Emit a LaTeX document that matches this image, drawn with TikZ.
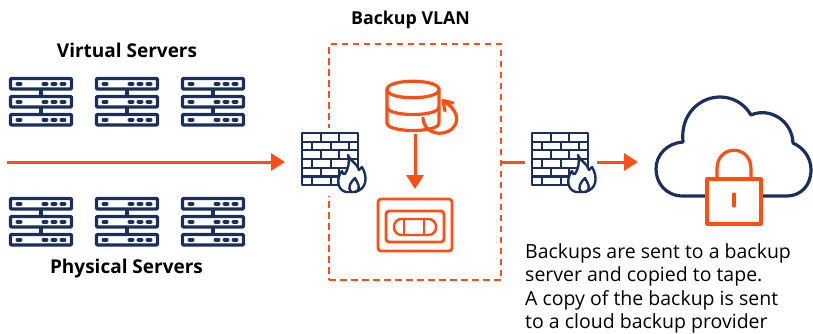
\documentclass[tikz,border=0pt]{standalone}
\usepackage{fontspec}
\setmainfont{Open Sans}
\usetikzlibrary{arrows.meta}
\definecolor{navy}{HTML}{1B2F5E}
\definecolor{flame}{HTML}{FC4F14}
\tikzset{
  x=1pt,y=-1pt,
  anchorbox/.style={inner sep=0pt,outer sep=0pt,minimum width=#1,draw=none},
  heading/.style={font=\fontsize{19}{22}\selectfont\bfseries,text=black,inner sep=0pt},
  link/.style={draw=flame,line width=3pt},
  flow/.style={link,-{Triangle[length=14pt,width=17pt]}},
  navyline/.style={draw=navy,line width=3.2pt,line join=round,line cap=round},
  redline/.style={draw=flame,line width=3.2pt,line join=round,line cap=round},
  pics/serverstack/.style={code={
    \foreach \yy in {0,18,36}{
      \draw[navyline,rounded corners=0.8pt] (1.5,1.5+\yy) rectangle (62.5,12+\yy);
      \foreach \xx in {10,36,45,54}
        \draw[navy,line width=4pt,line cap=round] (\xx-1.5,6.7+\yy) -- (\xx+1.5,6.7+\yy);
    }
    \draw[navyline,line cap=butt] (32,12) -- (32,19) (32,30) -- (32,37);
  }},
  pics/firewall/.style={code={
    \fill[white] (-3,-5) rectangle (66,63);
    \draw[navyline,line width=2.3pt] (0,0) rectangle (56,52);
    \foreach \r in {1,...,5} \draw[navyline,line width=2.3pt,line cap=butt] (0,\r*8.67) -- (56,\r*8.67);
    \foreach \r in {0,2,4}{
      \draw[navyline,line width=2.3pt,line cap=butt] (19,\r*8.67) -- (19,\r*8.67+8.67) (37,\r*8.67) -- (37,\r*8.67+8.67);
    }
    \foreach \r in {1,3,5}{
      \draw[navyline,line width=2.3pt,line cap=butt] (10,\r*8.67) -- (10,\r*8.67+8.67) (29,\r*8.67) -- (29,\r*8.67+8.67) (47,\r*8.67) -- (47,\r*8.67+8.67);
    }
    \draw[navyline,line width=2.4pt,fill=white] (46,22) .. controls (49,29) and (55,30) .. (57,37)
      .. controls (58,35) and (59,36) .. (60,34) .. controls (66,44) and (65,57) .. (52,59)
      -- (44,59) .. controls (35,57) and (34,45) .. (40,38) .. controls (41,41) and (42,42) .. (43,41)
      .. controls (46,36) and (48,30) .. (46,22) -- cycle;
    \draw[navyline,line width=2.4pt] (49,59) .. controls (45,54) and (49,49) .. (53,45)
      .. controls (55,50) and (60,54) .. (54,59);
  }},
  pics/database/.style={code={
    \draw[redline] (0,8.5) .. controls (0,-2.5) and (52,-2.5) .. (52,8.5)
      .. controls (52,19.5) and (0,19.5) .. (0,8.5) -- cycle;
    \draw[redline] (0,8.5) -- (0,42) .. controls (0,52) and (52,52) .. (52,42) -- (52,8.5);
    \draw[redline] (0,26) .. controls (0,36) and (52,36) .. (52,26);
    \draw[redline] (36,37) .. controls (37,53) and (55,56) .. (65,48)
      .. controls (74,39) and (69,28) .. (58,21);
    \draw[redline] (66,22) -- (56,19.5) -- (58,30);
  }},
  pics/tape/.style={code={
    \draw[redline,line width=2.8pt,rounded corners=3pt] (0,0) rectangle (74,52);
    \draw[redline,line width=2.8pt,rounded corners=3pt] (8,12) rectangle (66,43);
    \draw[redline,line width=2.4pt,rounded corners=7.5pt] (16,20) rectangle (58,36);
    \draw[redline,line width=2.4pt] (26,20) -- (26,36) (46,20) -- (46,36);
  }},
  pics/cloudlock/.style={code={
    \draw[navyline] (51,106) -- (27,106)
      .. controls (9,106) and (0,92) .. (0,79)
      .. controls (0,64) and (12,53) .. (27,52)
      .. controls (24,24) and (44,7) .. (64,7)
      .. controls (76,7) and (88,13) .. (95,25)
      .. controls (113,17) and (136,30) .. (137,53)
      .. controls (148,58) and (155,68) .. (155,80)
      .. controls (155,96) and (144,106) .. (131,106)
      -- (106,106);
    \draw[redline] (51,89) rectangle (105,134);
    \draw[redline] (61,89) -- (61,79) .. controls (61,54) and (95,54) .. (95,79) -- (95,89);
    \draw[redline] (78,104) -- (78,116);
  }},
}
\begin{document}
\begin{tikzpicture}
\useasboundingbox (0,0) rectangle (813,333);
\foreach \px in {9,95,181}{
  \pic at (\px,77) {serverstack};
  \pic at (\px,197) {serverstack};
}
\node[heading] (virt) at (127,50) {Virtual Servers};
\node[heading] (phys) at (126.5,269) {Physical Servers};
\node[heading,font=\fontsize{17.8}{22}\selectfont\bfseries] (vlantitle) at (410.5,20) {Backup VLAN};
\node[draw=flame,line width=1.8pt,dash pattern=on 6.5pt off 4.5pt,inner sep=0pt,minimum width=172pt,minimum height=236pt] (vlan) at (415,162) {};
\pic at (302,133) {firewall};
\pic at (532,133) {firewall};
\pic at (387,81) {database};
\pic at (378,199) {tape};
\pic at (656,90) {cloudlock};
\coordinate (in) at (7,162);
\node[anchorbox=81pt,minimum height=60pt] (fw1) at (325.5,162) {};
\node[anchorbox=72pt,minimum height=60pt] (fw2) at (561,162) {};
\node[anchorbox=52pt,minimum height=54pt] (db) at (415,107) {};
\node[anchorbox=74pt,minimum height=52pt] (tp) at (415,225) {};
\node[anchorbox=155pt,minimum height=110pt] (cl) at (733.5,143) {};
\draw[flow] (in) -- (fw1.west);
\draw[link] (vlan.east) -- (fw2.west);
\draw[flow,shorten >=18pt] (fw2.east) -- (cl.west |- fw2.east);
\draw[flow,shorten >=10pt] (db.south) -- (tp.north);
\node[anchor=north west,align=left,inner sep=0pt,font=\fontsize{19.5}{23.4}\selectfont,text=black] (note) at (525,243.5)
 {Backups are sent to a backup\\server and copied to tape.\\A copy of the backup is sent\\to a cloud backup provider};
\end{tikzpicture}
\end{document}
